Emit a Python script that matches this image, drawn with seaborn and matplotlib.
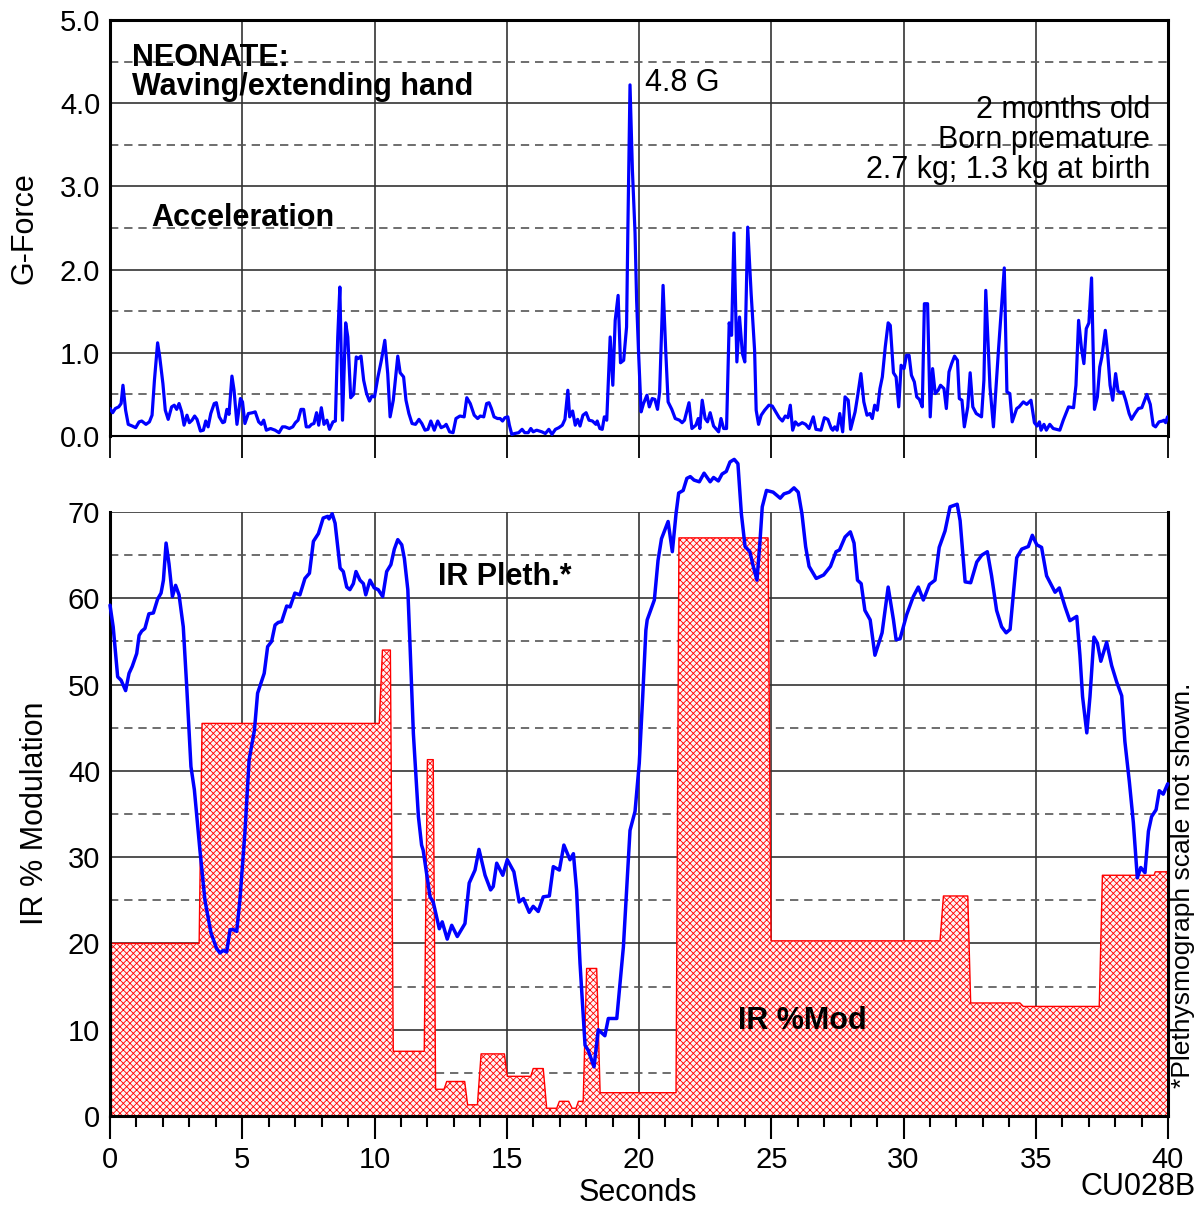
import matplotlib
matplotlib.use("Agg")
import matplotlib.pyplot as plt
from matplotlib.ticker import MultipleLocator, FormatStrFormatter
import seaborn as sns

# acceleration (G) vs time (s)
acc_t = [0.00, 0.10, 0.20, 0.33, 0.42, 0.49, 0.59, 0.69, 0.84, 0.97,
         1.10, 1.20, 1.36, 1.49, 1.59, 1.68, 1.80, 1.88, 2.00, 2.09,
         2.20, 2.33, 2.43, 2.52, 2.61, 2.71, 2.80, 2.91, 3.00, 3.10,
         3.20, 3.29, 3.42, 3.53, 3.62, 3.71, 3.81, 3.94, 4.02, 4.13,
         4.26, 4.33, 4.42, 4.50, 4.61, 4.69, 4.80, 4.93, 5.01, 5.10,
         5.23, 5.39, 5.49, 5.62, 5.72, 5.81, 5.91, 6.07, 6.24, 6.39,
         6.52, 6.62, 6.78, 6.91, 7.01, 7.11, 7.22, 7.32, 7.42, 7.53,
         7.62, 7.71, 7.81, 7.89, 7.99, 8.09, 8.20, 8.30, 8.43, 8.52,
         8.61, 8.69, 8.79, 8.91, 8.99, 9.10, 9.21, 9.31, 9.38, 9.49,
         9.59, 9.70, 9.81, 9.90, 10.00, 10.13, 10.26, 10.39, 10.50, 10.59,
         10.71, 10.80, 10.88, 10.97, 11.10, 11.19, 11.30, 11.42, 11.55, 11.68,
         11.79, 11.91, 12.02, 12.13, 12.26, 12.39, 12.52, 12.65, 12.71, 12.84,
         12.97, 13.08, 13.23, 13.39, 13.49, 13.62, 13.77, 13.90, 14.00, 14.13,
         14.24, 14.33, 14.42, 14.52, 14.65, 14.75, 14.84, 14.93, 15.04, 15.10,
         15.19, 15.30, 15.45, 15.58, 15.68, 15.81, 15.91, 16.00, 16.13, 16.33,
         16.46, 16.59, 16.71, 16.84, 16.97, 17.10, 17.20, 17.31, 17.38, 17.49,
         17.59, 17.68, 17.77, 17.88, 18.00, 18.11, 18.24, 18.37, 18.42, 18.52,
         18.61, 18.69, 18.78, 18.91, 19.01, 19.10, 19.21, 19.30, 19.42, 19.53,
         19.58, 19.66, 19.75, 19.85, 19.91, 19.98, 20.08, 20.17, 20.30, 20.39,
         20.50, 20.60, 20.70, 20.78, 20.91, 21.01, 21.10, 21.24, 21.37, 21.53,
         21.63, 21.72, 21.89, 22.00, 22.15, 22.24, 22.30, 22.39, 22.50, 22.59,
         22.69, 22.82, 23.01, 23.10, 23.20, 23.31, 23.41, 23.50, 23.59, 23.70,
         23.80, 23.91, 24.00, 24.11, 24.24, 24.37, 24.43, 24.52, 24.62, 24.75,
         24.91, 25.04, 25.17, 25.30, 25.42, 25.53, 25.63, 25.72, 25.81, 25.91,
         26.02, 26.17, 26.30, 26.43, 26.59, 26.69, 26.88, 27.01, 27.14, 27.27,
         27.33, 27.40, 27.49, 27.59, 27.70, 27.79, 27.91, 28.00, 28.17, 28.26,
         28.39, 28.50, 28.62, 28.73, 28.82, 28.91, 29.01, 29.11, 29.20, 29.31,
         29.42, 29.50, 29.62, 29.72, 29.82, 29.91, 30.02, 30.11, 30.21, 30.30,
         30.41, 30.50, 30.60, 30.71, 30.79, 30.91, 31.01, 31.10, 31.20, 31.31,
         31.40, 31.53, 31.62, 31.72, 31.82, 31.93, 32.04, 32.11, 32.21, 32.30,
         32.43, 32.52, 32.62, 32.75, 32.95, 33.04, 33.11, 33.27, 33.40, 33.59,
         33.81, 33.91, 34.02, 34.11, 34.28, 34.37, 34.53, 34.66, 34.82, 34.95,
         35.05, 35.14, 35.20, 35.31, 35.40, 35.53, 35.66, 35.91, 36.04, 36.24,
         36.43, 36.52, 36.62, 36.73, 36.82, 36.91, 37.01, 37.11, 37.22, 37.33,
         37.42, 37.50, 37.63, 37.72, 37.81, 37.91, 38.02, 38.11, 38.20, 38.30,
         38.40, 38.53, 38.62, 38.75, 38.88, 39.01, 39.20, 39.33, 39.44, 39.53,
         39.66, 39.79, 39.85, 39.91, 39.98]
acc_g = [0.33, 0.28, 0.33, 0.35, 0.39, 0.61, 0.31, 0.14, 0.12, 0.10,
         0.17, 0.18, 0.14, 0.17, 0.25, 0.67, 1.12, 0.95, 0.63, 0.31,
         0.20, 0.35, 0.37, 0.32, 0.39, 0.29, 0.13, 0.25, 0.16, 0.19,
         0.24, 0.20, 0.06, 0.07, 0.18, 0.11, 0.27, 0.39, 0.40, 0.23,
         0.16, 0.17, 0.32, 0.26, 0.72, 0.55, 0.14, 0.45, 0.41, 0.15,
         0.27, 0.28, 0.29, 0.17, 0.14, 0.19, 0.07, 0.09, 0.07, 0.04,
         0.11, 0.11, 0.09, 0.11, 0.16, 0.19, 0.32, 0.32, 0.11, 0.11,
         0.14, 0.15, 0.28, 0.13, 0.34, 0.14, 0.19, 0.08, 0.17, 0.18,
         1.19, 1.79, 0.19, 1.36, 1.19, 0.46, 0.50, 0.95, 0.93, 0.96,
         0.67, 0.51, 0.42, 0.48, 0.47, 0.71, 0.91, 1.15, 0.75, 0.23,
         0.43, 0.71, 0.96, 0.76, 0.71, 0.43, 0.27, 0.15, 0.14, 0.20,
         0.15, 0.07, 0.08, 0.18, 0.07, 0.18, 0.10, 0.12, 0.14, 0.05,
         0.04, 0.21, 0.24, 0.23, 0.46, 0.39, 0.25, 0.21, 0.24, 0.23,
         0.39, 0.40, 0.33, 0.23, 0.21, 0.21, 0.18, 0.22, 0.23, 0.13,
         0.02, 0.03, 0.04, 0.08, 0.04, 0.04, 0.09, 0.05, 0.07, 0.05,
         0.03, 0.08, 0.02, 0.08, 0.10, 0.13, 0.20, 0.55, 0.23, 0.30,
         0.13, 0.20, 0.12, 0.25, 0.28, 0.19, 0.18, 0.14, 0.18, 0.09,
         0.08, 0.23, 0.19, 1.19, 0.61, 1.39, 1.69, 0.88, 0.91, 1.31,
         2.50, 4.22, 3.20, 2.44, 1.63, 1.03, 0.29, 0.39, 0.49, 0.35,
         0.45, 0.44, 0.32, 0.53, 1.81, 1.03, 0.41, 0.32, 0.21, 0.19,
         0.16, 0.19, 0.40, 0.09, 0.13, 0.21, 0.09, 0.43, 0.21, 0.17,
         0.28, 0.12, 0.05, 0.21, 0.09, 0.09, 1.36, 1.21, 2.44, 0.89,
         1.43, 0.99, 0.89, 2.51, 1.71, 1.03, 0.31, 0.14, 0.25, 0.31,
         0.37, 0.36, 0.29, 0.22, 0.18, 0.24, 0.22, 0.37, 0.07, 0.17,
         0.13, 0.16, 0.14, 0.09, 0.23, 0.08, 0.07, 0.22, 0.20, 0.09,
         0.07, 0.11, 0.07, 0.27, 0.05, 0.47, 0.43, 0.08, 0.29, 0.47,
         0.75, 0.41, 0.25, 0.27, 0.21, 0.37, 0.31, 0.57, 0.71, 1.07,
         1.36, 1.33, 0.76, 0.71, 0.35, 0.85, 0.81, 0.97, 0.97, 0.73,
         0.65, 0.47, 0.44, 0.35, 1.59, 1.59, 0.23, 0.81, 0.51, 0.55,
         0.61, 0.57, 0.33, 0.77, 0.87, 0.96, 0.91, 0.45, 0.43, 0.11,
         0.35, 0.76, 0.35, 0.27, 0.23, 0.67, 1.75, 0.59, 0.11, 1.03,
         2.02, 0.53, 0.51, 0.17, 0.33, 0.35, 0.41, 0.38, 0.43, 0.16,
         0.12, 0.17, 0.07, 0.14, 0.07, 0.14, 0.09, 0.07, 0.19, 0.35,
         0.34, 0.61, 1.39, 1.05, 0.87, 1.29, 1.36, 1.90, 0.32, 0.47,
         0.83, 0.95, 1.27, 0.99, 0.61, 0.43, 0.75, 0.54, 0.52, 0.53,
         0.43, 0.27, 0.20, 0.27, 0.33, 0.34, 0.50, 0.38, 0.13, 0.11,
         0.17, 0.18, 0.19, 0.16, 0.23]

# IR plethysmograph trace (drawn on the % modulation scale)
pleth_t = [0.00, 0.12, 0.29, 0.42, 0.59, 0.72, 0.84, 1.01, 1.10, 1.20,
           1.32, 1.47, 1.64, 1.80, 1.93, 2.02, 2.12, 2.23, 2.36, 2.48,
           2.61, 2.77, 2.90, 3.06, 3.19, 3.40, 3.59, 3.82, 4.03, 4.16,
           4.28, 4.41, 4.54, 4.66, 4.79, 4.91, 5.10, 5.26, 5.46, 5.58,
           5.71, 5.83, 5.96, 6.11, 6.24, 6.36, 6.49, 6.68, 6.81, 6.99,
           7.18, 7.37, 7.54, 7.69, 7.88, 8.06, 8.23, 8.28, 8.40, 8.51,
           8.70, 8.82, 8.95, 9.07, 9.20, 9.30, 9.45, 9.58, 9.67, 9.83,
           9.99, 10.14, 10.31, 10.46, 10.62, 10.75, 10.88, 11.03, 11.13, 11.26,
           11.34, 11.47, 11.66, 11.78, 11.84, 12.10, 12.22, 12.45, 12.56, 12.75,
           12.92, 13.13, 13.42, 13.58, 13.80, 13.95, 14.18, 14.39, 14.49, 14.62,
           14.85, 15.02, 15.27, 15.47, 15.63, 15.85, 16.00, 16.19, 16.38, 16.61,
           16.76, 16.99, 17.16, 17.39, 17.52, 17.64, 17.77, 17.96, 18.08, 18.30,
           18.46, 18.71, 18.84, 19.16, 19.41, 19.66, 19.85, 20.01, 20.14, 20.26,
           20.31, 20.58, 20.72, 20.85, 21.10, 21.26, 21.40, 21.50, 21.67, 21.81,
           21.94, 22.08, 22.28, 22.46, 22.69, 22.82, 23.00, 23.14, 23.30, 23.44,
           23.60, 23.74, 23.87, 24.01, 24.19, 24.32, 24.46, 24.57, 24.66, 24.82,
           25.07, 25.34, 25.48, 25.68, 25.86, 26.02, 26.16, 26.30, 26.43, 26.70,
           26.98, 27.24, 27.45, 27.58, 27.79, 27.99, 28.13, 28.26, 28.40, 28.54,
           28.74, 28.92, 29.19, 29.42, 29.62, 29.72, 29.87, 30.12, 30.37, 30.56,
           30.75, 30.98, 31.19, 31.35, 31.57, 31.76, 32.03, 32.14, 32.33, 32.54,
           32.77, 32.96, 33.17, 33.33, 33.52, 33.71, 33.88, 34.03, 34.28, 34.47,
           34.72, 34.87, 35.04, 35.22, 35.41, 35.73, 35.89, 36.11, 36.29, 36.55,
           36.67, 36.77, 36.93, 37.05, 37.20, 37.33, 37.46, 37.68, 37.87, 38.06,
           38.25, 38.37, 38.54, 38.69, 38.84, 38.97, 39.13, 39.26, 39.38, 39.55,
           39.67, 39.82, 39.99]
pleth_v = [59.2, 56.7, 50.9, 50.5, 49.3, 51.3, 52.1, 53.6, 55.7, 56.2,
           56.5, 58.2, 58.3, 59.9, 60.6, 62.1, 66.4, 64.0, 60.2, 61.5,
           60.4, 56.7, 49.8, 40.5, 37.8, 30.8, 25.0, 21.2, 19.4, 18.9,
           19.2, 19.0, 21.6, 21.6, 21.4, 25.0, 32.8, 41.3, 44.7, 49.0,
           50.2, 51.3, 54.4, 55.0, 56.9, 57.2, 57.3, 59.1, 59.0, 60.6,
           60.4, 62.3, 62.9, 66.6, 67.5, 69.3, 69.5, 69.2, 69.8, 68.7,
           63.5, 63.1, 61.3, 61.0, 61.7, 63.1, 62.1, 61.7, 60.4, 62.1,
           61.2, 61.0, 60.2, 63.1, 63.9, 65.7, 66.8, 66.2, 64.6, 61.0,
           54.8, 44.3, 34.7, 31.4, 30.8, 25.4, 24.8, 21.7, 22.5, 20.5,
           22.1, 20.8, 22.3, 27.0, 28.5, 30.9, 27.9, 26.2, 26.6, 29.3,
           27.9, 29.7, 28.3, 24.8, 25.2, 23.6, 24.3, 23.7, 25.4, 25.5,
           28.9, 28.5, 31.4, 29.7, 30.4, 26.2, 17.7, 8.2, 7.6, 5.7,
           10.0, 9.3, 11.3, 11.3, 19.6, 33.1, 35.3, 40.9, 48.6, 56.3,
           57.5, 59.8, 64.4, 66.9, 68.9, 65.4, 69.8, 72.2, 72.5, 73.9,
           74.1, 73.7, 73.5, 74.5, 73.5, 74.0, 73.6, 74.4, 74.7, 75.8,
           76.1, 75.6, 69.8, 66.0, 65.4, 63.7, 62.1, 66.4, 70.6, 72.5,
           72.3, 71.6, 72.1, 72.3, 72.8, 72.3, 69.8, 66.0, 63.7, 62.3,
           62.7, 63.7, 65.4, 65.6, 67.1, 67.7, 66.4, 62.1, 61.7, 58.6,
           57.5, 53.4, 56.0, 61.3, 57.5, 55.2, 55.3, 58.1, 60.2, 61.3,
           59.8, 61.6, 62.1, 65.9, 67.8, 70.6, 70.9, 69.0, 61.9, 61.8,
           64.2, 65.0, 65.4, 62.6, 58.6, 56.7, 56.0, 56.4, 64.7, 65.7,
           66.0, 67.3, 66.2, 65.9, 62.6, 60.7, 61.2, 59.0, 57.4, 57.9,
           53.4, 48.6, 44.4, 48.6, 55.5, 54.8, 52.7, 54.9, 52.2, 50.3,
           48.7, 43.4, 38.7, 34.0, 27.6, 28.8, 28.2, 33.0, 34.7, 35.5,
           37.7, 37.3, 38.5]

# IR % modulation, stepwise
mod_t = [0, 3.37, 3.48, 10.18, 10.30, 10.60, 10.71, 11.88, 12.00, 12.22,
         12.31, 12.63, 12.73, 13.41, 13.52, 13.89, 14.03, 14.91, 15.02, 15.91,
         16.00, 16.38, 16.51, 16.89, 16.99, 17.34, 17.47, 17.62, 17.71, 17.89,
         18.02, 18.40, 18.53, 21.40, 21.51, 24.88, 24.99, 31.38, 31.51, 32.43,
         32.54, 34.40, 34.53, 37.40, 37.52, 39.47, 39.52, 40]
mod_v = [20.0, 20.0, 45.5, 45.5, 54.0, 54.0, 7.5, 7.5, 41.3, 41.3,
         3.1, 3.1, 4.0, 4.0, 1.3, 1.3, 7.2, 7.2, 4.6, 4.6,
         5.5, 5.5, 0.9, 0.9, 1.7, 1.7, 0.9, 0.9, 1.7, 1.7,
         17.1, 17.1, 2.7, 2.7, 67.0, 67.0, 20.3, 20.3, 25.5, 25.5,
         13.1, 13.1, 12.7, 12.7, 27.9, 27.9, 28.3, 28.3]

info_lines = ["2 months old", "Born premature", "2.7 kg; 1.3 kg at birth"]

sns.set_theme(style="white")
plt.rcParams['font.family'] = ['Liberation Sans', 'DejaVu Sans']
plt.rcParams['text.color'] = 'black'
plt.rcParams['xtick.color'] = 'black'
plt.rcParams['ytick.color'] = 'black'
plt.rcParams['hatch.linewidth'] = 0.6
FS = 21
FT = 22  # annotation text

fig = plt.figure(figsize=(12.04, 12.12), dpi=100)
W, H = 1204.0, 1212.0
ax1 = fig.add_axes([110 / W, 1 - 436 / H, 1058 / W, 416 / H])
ax2 = fig.add_axes([110 / W, 1 - 1116 / H, 1058 / W, 604 / H])

grid_solid = dict(color='#333333', linewidth=1.2, linestyle='-')
grid_dash = dict(color='#555555', linewidth=1.2, linestyle=(0, (5, 3.5)))

for ax in (ax1, ax2):
    ax.set_xlim(0, 40)
    ax.xaxis.set_major_locator(MultipleLocator(5))
    ax.xaxis.grid(True, which='major', **grid_solid)
    ax.yaxis.grid(True, which='major', **grid_solid)
    ax.yaxis.grid(True, which='minor', **grid_dash)
    ax.set_axisbelow(True)
    ax.tick_params(axis='y', which='both', length=0, pad=7, labelsize=FS,
                   colors='black')
    for s in ax.spines.values():
        s.set_color('black')
        s.set_linewidth(2.2)

# top panel: acceleration
ax1.set_ylim(0, 5)
ax1.yaxis.set_major_locator(MultipleLocator(1))
ax1.yaxis.set_minor_locator(MultipleLocator(0.5))
ax1.yaxis.set_major_formatter(FormatStrFormatter('%.1f'))
ax1.tick_params(axis='x', which='major', direction='out', length=16, width=1.3,
                color='black', labelbottom=False, bottom=True)
ax1.spines['bottom'].set_linewidth(1.5)
sns.lineplot(x=acc_t, y=acc_g, ax=ax1, color='#0000ff', linewidth=2.3,
             estimator=None, zorder=3)

ax1.text(0.83, 4.45, "NEONATE:", fontsize=FT, fontweight='bold')
ax1.text(0.83, 4.10, "Waving/extending hand", fontsize=FT, fontweight='bold')
ax1.text(1.55, 2.52, "Acceleration", fontsize=FT, fontweight='bold')
ax1.text(20.23, 4.15, "4.8 G", fontsize=FT)
for i, line in enumerate(info_lines):
    ax1.text(39.32, 3.82 - 0.36 * i, line, fontsize=FT, ha='right')

# bottom panel: IR % modulation + pleth
ax2.set_ylim(0, 70)
ax2.yaxis.set_major_locator(MultipleLocator(10))
ax2.yaxis.set_minor_locator(MultipleLocator(5))
ax2.xaxis.set_minor_locator(MultipleLocator(1))
ax2.spines['top'].set_visible(False)
ax2.tick_params(axis='x', which='major', direction='out', length=16.5, width=1.5,
                color='black', labelsize=FS, pad=5, bottom=True)
ax2.tick_params(axis='x', which='minor', direction='out', length=8, width=1.5,
                color='black', bottom=True)

ax2.fill_between(mod_t, mod_v, 0, facecolor='#fff4f4', edgecolor='red',
                 hatch='xxxxx', linewidth=1.0, zorder=1)
sns.lineplot(x=pleth_t, y=pleth_v, ax=ax2, color='#0000ff', linewidth=2.5,
             estimator=None, clip_on=False, zorder=4)

ax2.text(12.40, 61.5, "IR Pleth.*", fontsize=FT, fontweight='bold')
ax2.text(23.74, 10.1, "IR %Mod", fontsize=FT, fontweight='bold', zorder=5)

for ax in (ax1, ax2):
    ax.set_xlabel('')
    ax.set_ylabel('')

fig.text(25 / W, 1 - 228 / H, "G-Force", rotation=90, fontsize=FT,
         ha='center', va='center')
fig.text(35 / W, 1 - 813 / H, "IR % Modulation", rotation=90, fontsize=FT,
         ha='center', va='center')
fig.text(638 / W, 1 - 1193 / H, "Seconds", fontsize=FT, ha='center', va='center')
fig.text(1196 / W, 1 - 1187 / H, "CU028B", fontsize=FT, ha='right', va='center')
fig.text(1183 / W, 1 - 885 / H, "*Plethysmograph scale not shown.", rotation=90,
         fontsize=19, ha='center', va='center')

fig.savefig("out.png", dpi=100)
